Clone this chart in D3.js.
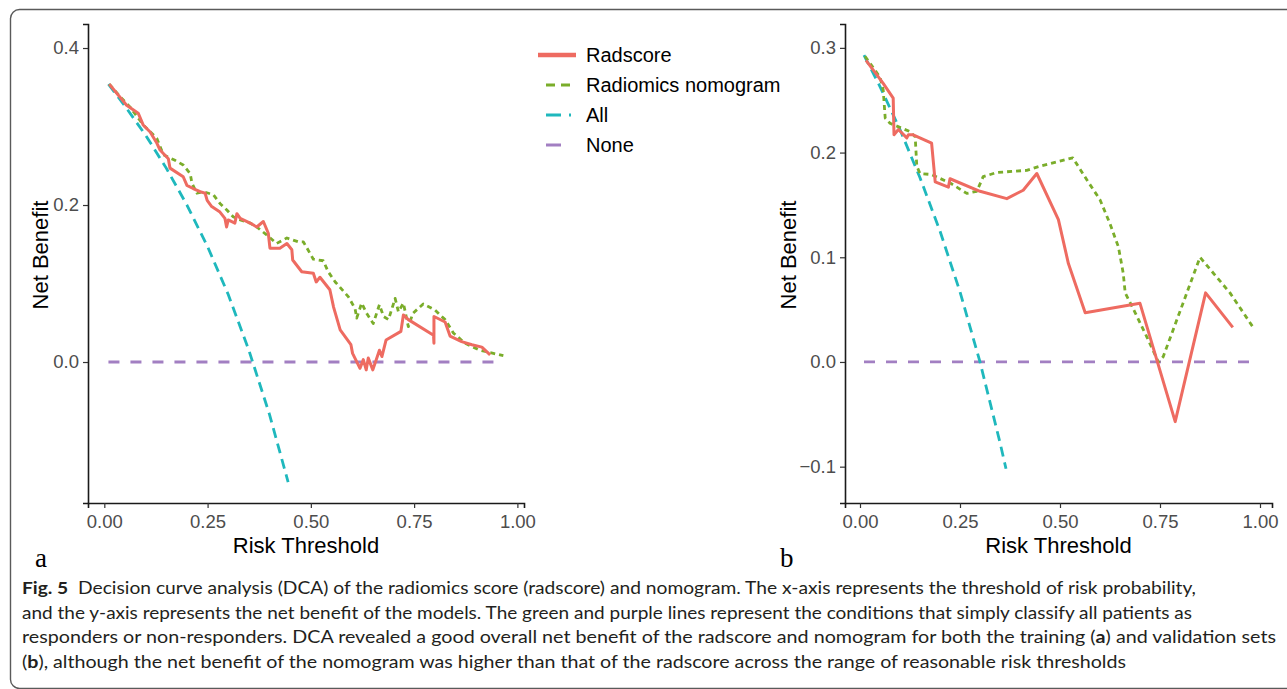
<!DOCTYPE html>
<html>
<head>
<meta charset="utf-8">
<script src="https://cdn.jsdelivr.net/npm/d3@7"></script>
<style>
  body { margin: 0; background: #fff; }
  #chart { width: 1287px; height: 689px; }
  .tick text { font-family: "Liberation Sans", Arial, sans-serif; fill: #4d4d4d; }
</style>
</head>
<body>
<div id="chart"></div>
<script>
// ---- data ----
// panel a (training set)
var trainRadX = [0.012,0.054,0.082,0.094,0.111,0.127,0.135,0.155,0.159,0.191,0.200,0.215,0.232,0.244,0.249,0.260,0.280,0.292,0.296,0.300,0.316,0.321,0.329,0.353,0.369,0.385,0.397,0.401,0.425,0.442,0.454,0.456,0.478,0.506,0.513,0.522,0.546,0.555,0.571,0.597,0.601,0.619,0.627,0.634,0.639,0.650,0.666,0.672,0.682,0.718,0.724,0.736,0.797,0.798,0.798,0.825,0.837,0.865,0.890,0.914,0.934];
var trainRadY = [0.354,0.327,0.317,0.302,0.293,0.279,0.270,0.259,0.247,0.236,0.225,0.221,0.217,0.215,0.206,0.198,0.191,0.183,0.172,0.181,0.177,0.189,0.183,0.177,0.172,0.179,0.164,0.145,0.145,0.151,0.143,0.130,0.115,0.113,0.102,0.108,0.092,0.070,0.041,0.022,0.011,-0.008,0.003,-0.010,0.005,-0.010,0.015,0.007,0.028,0.039,0.060,0.054,0.034,0.024,0.058,0.051,0.033,0.026,0.022,0.019,0.009];
var trainNomX = [0.012,0.038,0.062,0.086,0.094,0.127,0.143,0.171,0.191,0.208,0.212,0.224,0.240,0.264,0.280,0.296,0.312,0.329,0.353,0.369,0.393,0.417,0.442,0.470,0.482,0.506,0.530,0.542,0.559,0.591,0.607,0.611,0.623,0.635,0.651,0.666,0.676,0.688,0.704,0.712,0.724,0.736,0.747,0.772,0.801,0.825,0.845,0.873,0.909,0.942,0.966];
var trainNomY = [0.354,0.338,0.325,0.308,0.302,0.285,0.264,0.257,0.251,0.240,0.228,0.215,0.217,0.213,0.202,0.194,0.185,0.181,0.177,0.172,0.162,0.151,0.158,0.153,0.153,0.131,0.129,0.115,0.102,0.083,0.068,0.056,0.075,0.062,0.049,0.073,0.058,0.054,0.081,0.064,0.075,0.045,0.062,0.074,0.066,0.054,0.037,0.024,0.015,0.011,0.008];
var trainAllX = [0.01,0.05,0.10,0.15,0.20,0.25,0.30,0.35,0.40,0.445];
var trainAllY = [0.354,0.326,0.289,0.247,0.200,0.147,0.086,0.015,-0.067,-0.153];
var trainNoneX = [0.01,0.966];
var trainNoneY = [0,0];

// panel b (validation set)
var validRadX = [0.015,0.058,0.083,0.085,0.096,0.117,0.121,0.133,0.179,0.188,0.221,0.225,0.300,0.367,0.408,0.442,0.496,0.521,0.563,0.700,0.788,0.864,0.932];
var validRadY = [0.288,0.266,0.252,0.217,0.222,0.214,0.217,0.217,0.209,0.172,0.167,0.175,0.163,0.156,0.164,0.180,0.136,0.094,0.047,0.056,-0.057,0.066,0.033];
var validNomX = [0.0125,0.050,0.058,0.063,0.075,0.125,0.138,0.142,0.150,0.179,0.225,0.267,0.292,0.308,0.342,0.417,0.450,0.532,0.567,0.600,0.625,0.646,0.658,0.663,0.688,0.717,0.746,0.758,0.850,0.925,0.983];
var validNomY = [0.292,0.272,0.260,0.233,0.228,0.220,0.215,0.187,0.180,0.179,0.171,0.161,0.163,0.177,0.181,0.183,0.187,0.195,0.174,0.155,0.132,0.110,0.085,0.066,0.047,0.024,0.000,0.005,0.100,0.066,0.033];
var validAllX = [0.01,0.05,0.10,0.15,0.20,0.25,0.30,0.35,0.365];
var validAllY = [0.293,0.263,0.222,0.176,0.125,0.067,0.0,-0.077,-0.102];
var validNoneX = [0.01,0.983];
var validNoneY = [0,0];

var xTicks = [0, 0.25, 0.5, 0.75, 1];
var yTicksA = [0, 0.2, 0.4];
var yTicksB = [-0.1, 0, 0.1, 0.2, 0.3];

var seriesNames = ['Radscore', 'Radiomics nomogram', 'All', 'None'];
var seriesColors = ['#ee6b61', '#7aad2a', '#1fb8bd', '#a27fc2'];
var seriesDash = [null, '5,4', '10,6', '11,11'];

(function(){
  var width = 1287,
      height = 689;

  var svg = d3.select('#chart')
    .append('svg')
    .attr('width', width)
    .attr('height', height)
    .style('font-family', '"Liberation Sans", Arial, sans-serif');

  // outer figure frame
  svg.append('rect')
    .attr('x', 10.5).attr('y', 9.5)
    .attr('width', 1300).attr('height', 679)
    .attr('rx', 9)
    .attr('fill', 'none')
    .attr('stroke', '#5a5a5a')
    .attr('stroke-width', 1.4)

  function zip(xs, ys) {
    return xs.map(function(x, i){ return [x, ys[i]] })
  }

  function panel(opt) {
    var x = d3.scaleLinear().domain(opt.xDomain).range([opt.left, opt.right])
    var y = d3.scaleLinear().domain(opt.yDomain).range([opt.bottom, opt.top])

    var g = svg.append('g')

    var xAxis = g.append('g')
      .attr('transform', 'translate(0,' + opt.bottom + ')')
      .call(d3.axisBottom(x).tickValues(xTicks).tickFormat(d3.format('.2f')).tickSizeOuter(0).tickSize(5).tickPadding(3))
    var yAxis = g.append('g')
      .attr('transform', 'translate(' + opt.left + ',0)')
      .call(d3.axisLeft(y).tickValues(opt.yTicks).tickFormat(d3.format('.1f')).tickSizeOuter(0).tickSize(5).tickPadding(4))

    g.selectAll('.domain').attr('stroke', '#1a1a1a').attr('stroke-width', 1.6)
    g.selectAll('.tick line').attr('stroke', '#333').attr('stroke-width', 1.2)
    g.selectAll('.tick text').attr('font-size', 18.5).attr('fill', '#4d4d4d')
    xAxis.selectAll('.tick text').attr('dy', '0.92em')

    var line = d3.line()
      .x(function(d){ return x(d[0]) })
      .y(function(d){ return y(d[1]) })

    var data = [opt.none, opt.all, opt.nom, opt.rad]
    var idx = [3, 2, 1, 0]
    data.forEach(function(d, i){
      var k = idx[i]
      g.append('path')
        .datum(d)
        .attr('d', line)
        .attr('fill', 'none')
        .attr('stroke', seriesColors[k])
        .attr('stroke-width', k == 0 ? 3 : 2.8)
        .attr('stroke-dasharray', seriesDash[k])
        .attr('stroke-linejoin', 'round')
    })

    g.append('text')
      .attr('x', (opt.left + opt.right) / 2)
      .attr('y', 553)
      .attr('text-anchor', 'middle')
      .attr('font-size', 22)
      .attr('fill', '#000')
      .text('Risk Threshold')

    g.append('text')
      .attr('transform', 'translate(' + opt.yTitleX + ',255) rotate(-90)')
      .attr('text-anchor', 'middle')
      .attr('font-size', 22)
      .attr('fill', '#000')
      .text('Net Benefit')

    g.append('text')
      .attr('x', opt.letterX)
      .attr('y', 567)
      .attr('font-family', '"Liberation Serif", "DejaVu Serif", serif')
      .attr('font-size', 27)
      .attr('fill', '#000')
      .text(opt.letter)
  }

  panel({
    left: 88, right: 524, top: 24, bottom: 503,
    xDomain: [-0.0395, 1.016], yDomain: [-0.1796, 0.4306],
    yTicks: yTicksA, yTitleX: 48, letterX: 35, letter: 'a',
    rad: zip(trainRadX, trainRadY), nom: zip(trainNomX, trainNomY),
    all: zip(trainAllX, trainAllY), none: zip(trainNoneX, trainNoneY)
  })

  panel({
    left: 845, right: 1272, top: 24, bottom: 503,
    xDomain: [-0.0375, 1.03], yDomain: [-0.1347, 0.3228],
    yTicks: yTicksB, yTitleX: 796, letterX: 780, letter: 'b',
    rad: zip(validRadX, validRadY), nom: zip(validNomX, validNomY),
    all: zip(validAllX, validAllY), none: zip(validNoneX, validNoneY)
  })

  // legend
  var legend = svg.append('g')
  var keyX = [[538, 576], [546, 570], [546, 571], [546, 561]]
  var keyDash = [null, '9,6', '15,8', null]
  seriesNames.forEach(function(name, i){
    var yy = 55 + i * 30
    legend.append('line')
      .attr('x1', keyX[i][0]).attr('x2', keyX[i][1])
      .attr('y1', yy).attr('y2', yy)
      .attr('stroke', seriesColors[i])
      .attr('stroke-width', i == 0 ? 4.5 : 3)
      .attr('stroke-dasharray', keyDash[i])
    legend.append('text')
      .attr('x', 586)
      .attr('y', yy + 7)
      .attr('font-size', 20)
      .attr('fill', '#000')
      .text(name)
  })

  // caption
  var caption = [
    { w: 1174, parts: [['Fig. 5', true], ['  Decision curve analysis (DCA) of the radiomics score (radscore) and nomogram. The x-axis represents the threshold of risk probability,', false]] },
    { w: 1170, parts: [['and the y-axis represents the net benefit of the models. The green and purple lines represent the conditions that simply classify all patients as', false]] },
    { w: 1254, parts: [['responders or non-responders. DCA revealed a good overall net benefit of the radscore and nomogram for both the training (', false], ['a', true], [') and validation sets', false]] },
    { w: 1104, parts: [['(', false], ['b', true], ['), although the net benefit of the nomogram was higher than that of the radscore across the range of reasonable risk thresholds', false]] }
  ]
  caption.forEach(function(c, i){
    var t = svg.append('text')
      .attr('x', 22)
      .attr('y', 594 + i * 24.5)
      .attr('font-family', 'Lato, "Open Sans", sans-serif')
      .attr('font-size', 17.5)
      .attr('fill', '#231f20')
      .attr('textLength', c.w)
      .attr('lengthAdjust', 'spacingAndGlyphs')
      .style('white-space', 'pre')
    c.parts.forEach(function(p){
      t.append('tspan')
        .attr('font-weight', p[1] ? 'bold' : 'normal')
        .text(p[0])
    })
  })
})()
</script>
</body>
</html>
